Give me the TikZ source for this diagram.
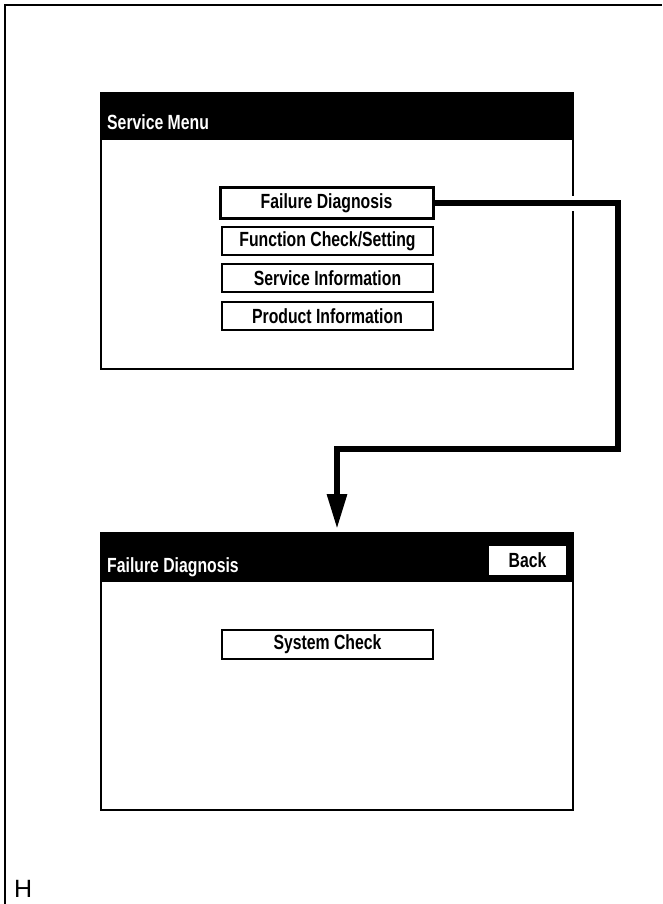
\documentclass[tikz,border=0pt]{standalone}
\usepackage{fontspec}
\setmainfont{Liberation Sans}
\newfontfamily\narrowfont[FakeStretch=0.77]{Liberation Sans Bold}
\usetikzlibrary{arrows.meta}

\begin{document}
\begin{tikzpicture}[x=1pt,y=-1pt,line join=miter]
	\def \btnx{327.5}
	\tikzstyle{win}=[rectangle,draw=black,line width=2pt,inner sep=0pt,minimum width=472pt]
	\tikzstyle{hdr}=[rectangle,fill=black,inner sep=0pt,minimum width=472pt]
	\tikzstyle{hdrtxt}=[anchor=base west,inner sep=0pt,text=white,font=\narrowfont\fontsize{20.5}{22}\selectfont]
	\tikzstyle{btn}=[rectangle,draw=black,line width=1.3pt,fill=white,inner sep=0pt,minimum width=211pt,minimum height=28pt,font=\narrowfont\fontsize{20.5}{22}\selectfont]
	\tikzstyle{conn}=[line width=6pt,-{Triangle[length=35pt,width=19pt]},preaction={draw=white,line width=15pt,-}]
	\useasboundingbox (0,0) rectangle (662,904);
	% page frame
	\draw[line width=1.8pt] (5,904) -- (5,5) -- (662,5);
	\node[anchor=base west,inner sep=0pt,font=\fontsize{25}{27}\selectfont] (letter) at (14,897) {H};

	% service menu window
	\node[win,minimum height=276pt] (menu) at (337,231) {};
	\node[hdr,minimum height=48pt,anchor=north] (menuhdr) at (menu.north) {};
	\node[hdrtxt] (menutitle) at (107,130) {Service Menu};
	\node[btn,line width=3pt,minimum width=213pt,minimum height=30pt] (fd) at (326.5,203) {Failure Diagnosis};
	\node[btn] (fc) at (\btnx,241) {Function Check/Setting};
	\node[btn] (si) at (\btnx,278) {Service Information};
	\node[btn] (pi) at (\btnx,316) {Product Information};

	% failure diagnosis window
	\node[win,minimum height=277pt] (diag) at (337,671.5) {};
	\node[hdr,minimum height=50pt,anchor=north] (diaghdr) at (diag.north) {};
	\node[hdrtxt] (diagtitle) at (107,572) {Failure Diagnosis};
	\node[btn,draw=white,minimum width=75pt,minimum height=27pt] (back) at (527.5,560.5) {Back};
	\node[btn,minimum height=29pt] (sc) at (\btnx,644.5) {System Check};

	\coordinate (bend) at (618,449);
	\draw[conn,shorten >=3pt] (fd.east) -| (bend) -| (diag.north);
\end{tikzpicture}
\end{document}
